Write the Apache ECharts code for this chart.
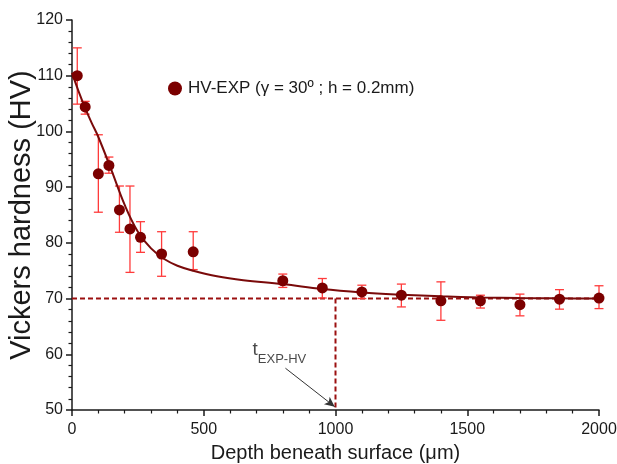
<!DOCTYPE html>
<html>
<head>
<meta charset="utf-8">
<script src="https://cdn.jsdelivr.net/npm/echarts@6/dist/echarts.min.js"></script>
<style>html,body{margin:0;padding:0;background:#fff;}#c{width:617px;height:464px;}</style>
</head>
<body>
<div id="c"></div>
<script>
// Experimental points
var depth = [20, 50, 100, 140, 180, 220, 260, 340, 460, 800, 950, 1100, 1250, 1400, 1550, 1700, 1850, 2000];
var hv    = [110, 104.4, 92.4, 93.9, 85.9, 82.5, 81.0, 78.0, 78.4, 73.2, 71.9, 71.2, 70.6, 69.6, 69.6, 68.9, 69.9, 70.1];
var errLow  = [104.9, 103.1, 85.5, 92.5, 81.9, 74.7, 78.3, 74.0, 75.2, 72.0, 70.1, 70.0, 68.5, 66.1, 68.3, 66.9, 68.1, 68.2];
var errHigh = [115.0, 105.4, 99.4, 95.4, 90.2, 90.2, 83.8, 82.0, 82.0, 74.4, 73.6, 72.4, 72.6, 73.0, 70.6, 70.8, 71.6, 72.3];
// Fitted curve
var fitX = [0, 25, 50, 75, 100, 150, 200, 250, 300, 350, 400, 460, 550, 650, 800, 950, 1100, 1250, 1400, 1550, 1700, 1850, 2000];
var fitY = [110.5, 107.2, 104.2, 101.5, 99.0, 93.0, 86.8, 82.0, 79.0, 77.1, 75.9, 75.0, 74.0, 73.3, 72.6, 71.7, 71.1, 70.7, 70.4, 70.2, 70.1, 70.05, 70.0];
// Threshold lines
var thresholdHV = 70;
var thresholdDepth = 1000;
var annotStart = [810, 57.5];
var annotEnd = [997, 50.6];
var annotLabelAt = [787, 60.2];
var legendName = 'HV-EXP (\u03b3 = 30\u00ba ; h = 0.2mm)';

var chart = echarts.init(document.getElementById('c'));
var font = '"Liberation Sans", Arial, sans-serif';

var pts = depth.map(function (d, i) { return [d, hv[i]]; });
var errs = depth.map(function (d, i) { return [d, errLow[i], errHigh[i]]; });
var fit = fitX.map(function (d, i) { return [d, fitY[i]]; });

chart.setOption({
  animation: false,
  backgroundColor: '#fff',
  grid: { left: 72, right: 18, top: 20, bottom: 54, containLabel: false, outerBoundsMode: 'none' },
  legend: {
    data: [{ name: legendName, icon: 'circle' }],
    left: 163, top: 75,
    itemWidth: 14, itemHeight: 14, itemGap: 10,
    textStyle: { fontFamily: font, fontSize: 17, color: '#1a1a1a', padding: [0, 0, 0, 1] }
  },
  xAxis: {
    type: 'value', min: 0, max: 2000, interval: 500,
    name: 'Depth beneath surface (\u03bcm)', nameLocation: 'middle', nameGap: 33,
    nameMoveOverlap: false,
    nameTextStyle: { fontFamily: font, fontSize: 20, color: '#1a1a1a' },
    axisLine: { lineStyle: { color: '#1a1a1a', width: 1.5 } },
    axisTick: { length: 6, lineStyle: { color: '#1a1a1a', width: 1.5 } },
    minorTick: { show: true, splitNumber: 5, length: 3.5, lineStyle: { color: '#1a1a1a', width: 1.2 } },
    splitLine: { show: false },
    axisLabel: { fontFamily: font, fontSize: 16, color: '#1a1a1a', margin: 12, formatter: function (v) { return String(v); } }
  },
  yAxis: {
    type: 'value', min: 50, max: 120, interval: 10,
    name: 'Vickers hardness (HV)', nameLocation: 'middle', nameGap: 36,
    nameMoveOverlap: false,
    nameTextStyle: { fontFamily: font, fontSize: 29, color: '#1a1a1a' },
    axisLine: { show: true, lineStyle: { color: '#1a1a1a', width: 1.5 } },
    axisTick: { show: true, length: 6, lineStyle: { color: '#1a1a1a', width: 1.5 } },
    minorTick: { show: true, splitNumber: 5, length: 3.5, lineStyle: { color: '#1a1a1a', width: 1.2 } },
    splitLine: { show: false },
    axisLabel: { fontFamily: font, fontSize: 16, color: '#1a1a1a', margin: 9 }
  },
  series: [
    {
      name: 'threshold-h', type: 'line', data: [[0, thresholdHV], [2000, thresholdHV]],
      symbol: 'none', z: 2, silent: true,
      lineStyle: { color: '#9b1010', width: 2, type: [5, 3] }
    },
    {
      name: 'threshold-v', type: 'line', data: [[thresholdDepth, thresholdHV], [thresholdDepth, 50]],
      symbol: 'none', z: 2, silent: true,
      lineStyle: { color: '#9b1010', width: 2, type: [5, 3] },
      markLine: {
        silent: true, symbol: ['none', 'arrow'], symbolSize: [7, 10],
        label: { show: false },
        lineStyle: { color: '#333', width: 1, type: 'solid' },
        data: [[{ coord: annotStart }, { coord: annotEnd }]]
      }
    },
    {
      name: 'errors', type: 'custom', data: errs, z: 3,
      renderItem: function (params, api) {
        var x = api.value(0);
        var lo = api.coord([x, api.value(1)]);
        var hi = api.coord([x, api.value(2)]);
        var w = 4.5;
        var st = { stroke: '#ff3b3b', lineWidth: 1.3, fill: null };
        return {
          type: 'group',
          children: [
            { type: 'line', shape: { x1: lo[0], y1: lo[1], x2: hi[0], y2: hi[1] }, style: st },
            { type: 'line', shape: { x1: lo[0] - w, y1: lo[1], x2: lo[0] + w, y2: lo[1] }, style: st },
            { type: 'line', shape: { x1: hi[0] - w, y1: hi[1], x2: hi[0] + w, y2: hi[1] }, style: st }
          ]
        };
      }
    },
    {
      name: 'fit', type: 'line', data: fit, smooth: 0.4, symbol: 'none', z: 4,
      lineStyle: { color: '#7a0a0a', width: 2 }
    },
    {
      name: legendName, type: 'scatter', data: pts, symbol: 'circle', symbolSize: 11, z: 5,
      itemStyle: { color: '#7b0000', opacity: 1 }
    },
    {
      name: 'annot', type: 'scatter', data: [annotLabelAt],
      symbolSize: 0, silent: true, z: 6,
      label: {
        show: true, position: 'inside',
        formatter: '{t|t}{s|EXP-HV}',
        rich: {
          t: { fontFamily: font, fontSize: 19, color: '#1a1a1a', verticalAlign: 'bottom', padding: [0, 0, 6, 0] },
          s: { fontFamily: font, fontSize: 13, color: '#1a1a1a', verticalAlign: 'bottom', padding: [8, 0, 0, 0] }
        }
      }
    }
  ]
});
</script>
</body>
</html>
